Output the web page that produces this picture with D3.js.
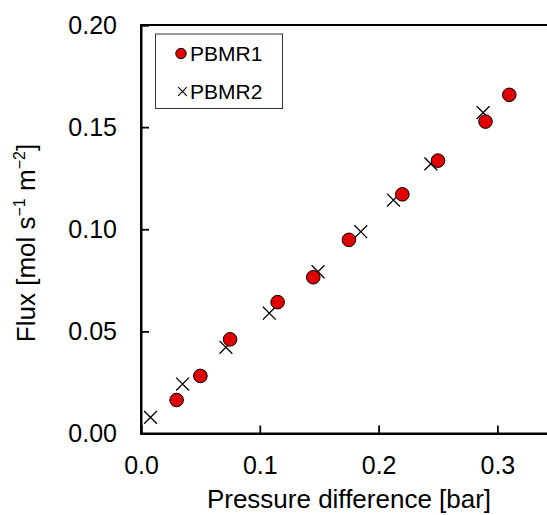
<!DOCTYPE html>
<html><head><meta charset="utf-8">
<script src="https://cdn.jsdelivr.net/npm/d3@7"></script>
<style>body{margin:0;background:#fff}text{font-family:"Liberation Sans",Arial,sans-serif;fill:#000}</style>
</head><body>
<script>
const series = ["PBMR1", "PBMR2"];
const pbmr1X = [0.030, 0.050, 0.075, 0.115, 0.145, 0.175, 0.220, 0.250, 0.290, 0.310];
const pbmr1Y = [0.0164, 0.0282, 0.0461, 0.0643, 0.0765, 0.0948, 0.1171, 0.1336, 0.1527, 0.1658];
const pbmr2X = [0.008, 0.035, 0.0715, 0.108, 0.149, 0.185, 0.2125, 0.244, 0.288];
const pbmr2Y = [0.0079, 0.0242, 0.0422, 0.0589, 0.0792, 0.0988, 0.1143, 0.132, 0.1571];
const xTicks = [0.0, 0.1, 0.2, 0.3];
const yTicks = [0.00, 0.05, 0.10, 0.15, 0.20];
const xTitle = "Pressure difference [bar]";

const W = 547, H = 515;
const svg = d3.select("body").append("svg").attr("width", W).attr("height", H);
const x = d3.scaleLinear().domain([0, 0.35]).range([141, 556.8]);
const y = d3.scaleLinear().domain([0, 0.2]).range([433.5, 25]);

// frame
svg.append("rect").attr("x", x(0)).attr("y", y(0.2)).attr("width", x(0.35) - x(0)).attr("height", y(0) - y(0.2))
  .attr("fill", "none").attr("stroke", "#000").attr("stroke-width", 2);

const xa = svg.append("g").attr("transform", `translate(0,${y(0)})`)
  .call(d3.axisBottom(x).tickValues(xTicks).tickFormat(d3.format(".1f")).tickSize(-8).tickPadding(23));
const ya = svg.append("g").attr("transform", `translate(${x(0)},0)`)
  .call(d3.axisLeft(y).tickValues(yTicks).tickFormat(d3.format(".2f")).tickSize(-8).tickPadding(24));
[xa, ya].forEach(g => {
  g.select(".domain").attr("stroke", "#000").attr("stroke-width", 2);
  g.selectAll(".tick line").attr("stroke", "#000").attr("stroke-width", 1.8);
  g.selectAll(".tick text").attr("font-size", 25).attr("font-family", "Liberation Sans, Arial, sans-serif").attr("fill", "#000");
});

// titles
svg.append("text").attr("x", 349).attr("y", 508).attr("text-anchor", "middle").attr("font-size", 26).text(xTitle);
const yl = svg.append("text").attr("transform", "translate(35,243) rotate(-90)").attr("text-anchor", "middle").attr("font-size", 26);
yl.append("tspan").text("Flux [mol s");
yl.append("tspan").attr("font-size", 16).attr("dy", -10).text("\u22121");
yl.append("tspan").attr("dy", 10).text(" m");
yl.append("tspan").attr("font-size", 16).attr("dy", -10).text("\u22122");
yl.append("tspan").attr("dy", 10).text("]");

// data
const d1 = pbmr1X.map((v, i) => ({x: v, y: pbmr1Y[i]}));
const d2 = pbmr2X.map((v, i) => ({x: v, y: pbmr2Y[i]}));
const cross = d3.symbol().type(d3.symbolX).size(110);
svg.append("g").selectAll("path").data(d2).join("path")
  .attr("d", cross).attr("transform", d => `translate(${x(d.x)},${y(d.y)})`)
  .attr("fill", "none").attr("stroke", "#000").attr("stroke-width", 1.3);
svg.append("g").selectAll("circle").data(d1).join("circle")
  .attr("cx", d => x(d.x)).attr("cy", d => y(d.y)).attr("r", 6.8)
  .attr("fill", "#e00000").attr("stroke", "#000").attr("stroke-width", 1);

// legend
const lg = svg.append("g");
lg.append("rect").attr("x", 155.5).attr("y", 34).attr("width", 127).attr("height", 74.5)
  .attr("fill", "#fff").attr("stroke", "#333").attr("stroke-width", 1);
lg.append("circle").attr("cx", 181).attr("cy", 53.5).attr("r", 5.2).attr("fill", "#e00000").attr("stroke", "#000").attr("stroke-width", 1);
lg.append("path").attr("d", d3.symbol().type(d3.symbolX).size(50)()).attr("transform", "translate(182.5,91.5)")
  .attr("fill", "none").attr("stroke", "#000").attr("stroke-width", 1.1);
lg.append("text").attr("x", 190).attr("y", 61).attr("font-size", 21).text(series[0]);
lg.append("text").attr("x", 190).attr("y", 98.5).attr("font-size", 21).text(series[1]);
</script>
</body></html>
